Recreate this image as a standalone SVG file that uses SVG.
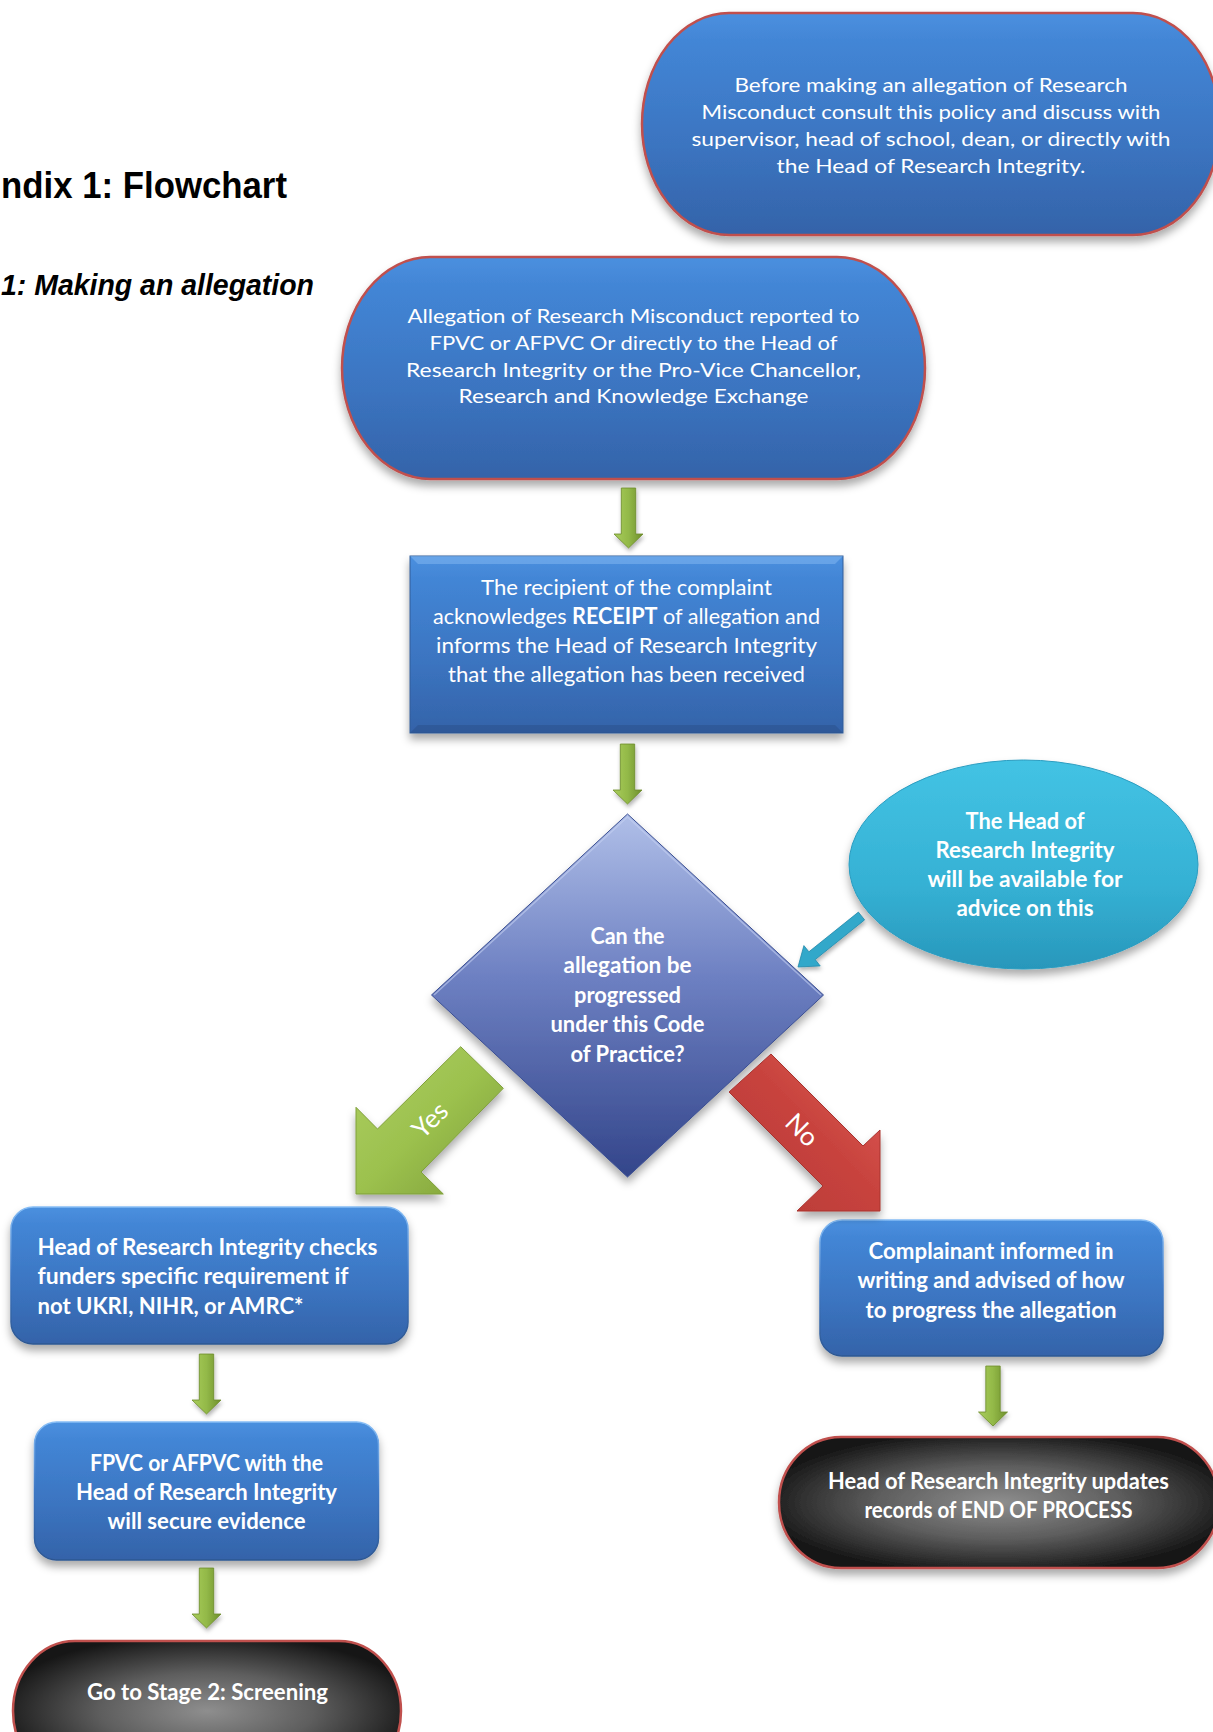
<svg xmlns="http://www.w3.org/2000/svg" width="1213" height="1732" viewBox="0 0 1213 1732">
<defs>
<style>
.t{font-family:Lato,'Liberation Sans',sans-serif;fill:#fff;text-anchor:middle}
.r20{font-size:20px}
.r22{font-size:22px}
.b22{font-size:22px;font-weight:700}
.lbl{font-family:Lato,'Liberation Sans',sans-serif;fill:#fff;font-size:26px;text-anchor:middle}
.hd{font-family:'Liberation Sans',Arial,sans-serif;font-weight:700;fill:#000}
.pillB{fill:url(#gBlue);stroke:#c0504d;stroke-width:2.5}
.pillD{fill:url(#gDark);stroke:#c0504d;stroke-width:2.5}
.box{fill:url(#gBlue);stroke:url(#gRim);stroke-width:1.5}
</style>
<linearGradient id="gBlue" x1="0" y1="0" x2="0" y2="1">
<stop offset="0" stop-color="#4b90df"/>
<stop offset="0.12" stop-color="#4386d6"/>
<stop offset="0.6" stop-color="#3b74c0"/>
<stop offset="1" stop-color="#3463a9"/>
</linearGradient>
<linearGradient id="gRim" x1="0" y1="0" x2="0" y2="1">
<stop offset="0" stop-color="#86bdf5"/>
<stop offset="0.5" stop-color="#3f78c4"/>
<stop offset="1" stop-color="#2d5791"/>
</linearGradient>
<radialGradient id="gDark" cx="0.5" cy="0.5" r="0.55">
<stop offset="0" stop-color="#8e8e8e"/>
<stop offset="0.5" stop-color="#5e5e5e"/>
<stop offset="1" stop-color="#161616"/>
</radialGradient>
<linearGradient id="gDia" x1="0" y1="0" x2="0" y2="1">
<stop offset="0" stop-color="#b0bfe8"/>
<stop offset="0.45" stop-color="#6d80c2"/>
<stop offset="1" stop-color="#33458a"/>
</linearGradient>
<linearGradient id="gCyan" x1="0" y1="0" x2="0" y2="1">
<stop offset="0" stop-color="#43c3e4"/>
<stop offset="0.6" stop-color="#35b1d4"/>
<stop offset="1" stop-color="#2897bb"/>
</linearGradient>
<linearGradient id="gGreen" x1="0" y1="0" x2="1" y2="0">
<stop offset="0" stop-color="#a9cd5c"/>
<stop offset="0.5" stop-color="#93b948"/>
<stop offset="1" stop-color="#6e8f2c"/>
</linearGradient>
<linearGradient id="gYes" x1="0" y1="0" x2="1" y2="1">
<stop offset="0" stop-color="#aecf62"/>
<stop offset="0.5" stop-color="#9cc14e"/>
<stop offset="1" stop-color="#7c9c36"/>
</linearGradient>
<linearGradient id="gNo" x1="0" y1="1" x2="1" y2="0">
<stop offset="0" stop-color="#b53a35"/>
<stop offset="0.55" stop-color="#c8433e"/>
<stop offset="1" stop-color="#e15e58"/>
</linearGradient>
<filter id="sh" x="-10%" y="-10%" width="120%" height="130%">
<feDropShadow dx="0" dy="6" stdDeviation="4" flood-color="#000" flood-opacity="0.33"/>
</filter>
<filter id="sh2" x="-20%" y="-20%" width="140%" height="140%">
<feDropShadow dx="1" dy="3" stdDeviation="2" flood-color="#000" flood-opacity="0.3"/>
</filter>
<path id="dn" d="M-7.2,0 H7.2 V46 H14.5 L0,60 L-14.5,46 H-7.2 Z"/>
</defs>

<g id="titles">
<text class="hd" x="1" y="198" font-size="36" textLength="286" lengthAdjust="spacingAndGlyphs">ndix 1: Flowchart</text>
<text class="hd" x="1" y="295" font-size="29" font-style="italic" textLength="313" lengthAdjust="spacingAndGlyphs">1: Making an allegation</text>
</g>

<g id="node-before">
<rect class="pillB" x="642" y="13" width="578" height="222" rx="87" ry="111" filter="url(#sh)"/>
<text class="t r20" x="931" y="92" textLength="393" lengthAdjust="spacingAndGlyphs">Before making an allegation of Research</text>
<text class="t r20" x="931" y="119" textLength="459" lengthAdjust="spacingAndGlyphs">Misconduct consult this policy and discuss with</text>
<text class="t r20" x="931" y="146" textLength="479" lengthAdjust="spacingAndGlyphs">supervisor, head of school, dean, or directly with</text>
<text class="t r20" x="931" y="173" textLength="309" lengthAdjust="spacingAndGlyphs">the Head of Research Integrity.</text>
</g>

<g id="node-allegation">
<rect class="pillB" x="342" y="257" width="583" height="222" rx="88" ry="111" filter="url(#sh)"/>
<text class="t r20" x="633.5" y="323" textLength="452" lengthAdjust="spacingAndGlyphs">Allegation of Research Misconduct reported to</text>
<text class="t r20" x="633.5" y="350" textLength="408" lengthAdjust="spacingAndGlyphs">FPVC or AFPVC Or directly to the Head of</text>
<text class="t r20" x="633.5" y="377" textLength="455" lengthAdjust="spacingAndGlyphs">Research Integrity or the Pro-Vice Chancellor,</text>
<text class="t r20" x="633.5" y="403" textLength="350" lengthAdjust="spacingAndGlyphs">Research and Knowledge Exchange</text>
</g>

<g id="node-receipt">
<rect x="410" y="556" width="433" height="177" fill="url(#gBlue)" stroke="#335d98" stroke-width="1" filter="url(#sh)"/>
<path d="M410,556 H843 L835,564 H418 Z" fill="#7fb6f0" opacity="0.55"/>
<path d="M410,733 H843 L835,725 H418 Z" fill="#25487c" opacity="0.35"/>
<text class="t r22" x="626.5" y="595" textLength="291" lengthAdjust="spacingAndGlyphs">The recipient of the complaint</text>
<text class="t r22" x="626.5" y="624" textLength="387" lengthAdjust="spacingAndGlyphs">acknowledges <tspan font-weight="700">RECEIPT</tspan> of allegation and</text>
<text class="t r22" x="626.5" y="653" textLength="381" lengthAdjust="spacingAndGlyphs">informs the Head of Research Integrity</text>
<text class="t r22" x="626.5" y="682" textLength="357" lengthAdjust="spacingAndGlyphs">that the allegation has been received</text>
</g>

<g id="node-decision">
<polygon points="627.5,814 823.5,995 627.5,1177 431.5,995" fill="url(#gDia)" stroke="#3b4f92" stroke-width="1" filter="url(#sh)"/>
<polyline points="434,995 627.5,817 821,995" fill="none" stroke="#c5d1f2" stroke-width="1.5" opacity="0.6"/>
<text class="t b22" x="627.5" y="944" textLength="74" lengthAdjust="spacingAndGlyphs">Can the</text>
<text class="t b22" x="627.5" y="973" textLength="128" lengthAdjust="spacingAndGlyphs">allegation be</text>
<text class="t b22" x="627.5" y="1003" textLength="107" lengthAdjust="spacingAndGlyphs">progressed</text>
<text class="t b22" x="627.5" y="1032" textLength="154" lengthAdjust="spacingAndGlyphs">under this Code</text>
<text class="t b22" x="627.5" y="1062" textLength="114" lengthAdjust="spacingAndGlyphs">of Practice?</text>
</g>

<g id="node-advice">
<ellipse cx="1023.5" cy="864.5" rx="174.5" ry="104.5" fill="url(#gCyan)" stroke="#2a9cc0" stroke-width="1" filter="url(#sh)"/>
<text class="t b22" x="1025" y="829" textLength="119" lengthAdjust="spacingAndGlyphs">The Head of</text>
<text class="t b22" x="1025" y="858" textLength="179" lengthAdjust="spacingAndGlyphs">Research Integrity</text>
<text class="t b22" x="1025" y="887" textLength="195" lengthAdjust="spacingAndGlyphs">will be available for</text>
<text class="t b22" x="1025" y="916" textLength="137" lengthAdjust="spacingAndGlyphs">advice on this</text>
</g>

<g id="node-funders">
<rect class="box" x="11" y="1207" width="397" height="137" rx="22" filter="url(#sh)"/>
<text class="t b22" style="text-anchor:start" x="37.5" y="1255" textLength="340" lengthAdjust="spacingAndGlyphs">Head of Research Integrity checks</text>
<text class="t b22" style="text-anchor:start" x="37.5" y="1284" textLength="311" lengthAdjust="spacingAndGlyphs">funders specific requirement if</text>
<text class="t b22" style="text-anchor:start" x="37.5" y="1314" textLength="266" lengthAdjust="spacingAndGlyphs">not UKRI, NIHR, or AMRC*</text>
</g>

<g id="node-evidence">
<rect class="box" x="34.5" y="1422" width="344" height="138" rx="22" filter="url(#sh)"/>
<text class="t b22" x="206.5" y="1471" textLength="233" lengthAdjust="spacingAndGlyphs">FPVC or AFPVC with the</text>
<text class="t b22" x="206.5" y="1500" textLength="261" lengthAdjust="spacingAndGlyphs">Head of Research Integrity</text>
<text class="t b22" x="206.5" y="1529" textLength="198" lengthAdjust="spacingAndGlyphs">will secure evidence</text>
</g>

<g id="node-stage2">
<rect class="pillD" x="13" y="1641" width="388" height="140" rx="62" ry="70"/>
<text class="t b22" x="207.5" y="1700" textLength="241" lengthAdjust="spacingAndGlyphs">Go to Stage 2: Screening</text>
</g>

<g id="node-complainant">
<rect class="box" x="820" y="1220" width="343" height="136" rx="22" filter="url(#sh)"/>
<text class="t b22" x="991" y="1259" textLength="245" lengthAdjust="spacingAndGlyphs">Complainant informed in</text>
<text class="t b22" x="991" y="1288" textLength="267" lengthAdjust="spacingAndGlyphs">writing and advised of how</text>
<text class="t b22" x="991" y="1318" textLength="251" lengthAdjust="spacingAndGlyphs">to progress the allegation</text>
</g>

<g id="node-end">
<rect class="pillD" x="779" y="1437" width="440" height="131" rx="62" ry="65.5" filter="url(#sh)"/>
<text class="t b22" x="998.5" y="1489" textLength="341" lengthAdjust="spacingAndGlyphs">Head of Research Integrity updates</text>
<text class="t b22" x="998.5" y="1518" textLength="268" lengthAdjust="spacingAndGlyphs">records of END OF PROCESS</text>
</g>

<g id="connectors">
<use href="#dn" x="628.5" y="488" fill="url(#gGreen)" stroke="#6c8c2b" stroke-width="0.8" filter="url(#sh2)"/>
<use href="#dn" x="627.5" y="744" fill="url(#gGreen)" stroke="#6c8c2b" stroke-width="0.8" filter="url(#sh2)"/>
<use href="#dn" x="206.5" y="1354" fill="url(#gGreen)" stroke="#6c8c2b" stroke-width="0.8" filter="url(#sh2)"/>
<use href="#dn" x="206.5" y="1568" fill="url(#gGreen)" stroke="#6c8c2b" stroke-width="0.8" filter="url(#sh2)"/>
<use href="#dn" x="993" y="1366" fill="url(#gGreen)" stroke="#6c8c2b" stroke-width="0.8" filter="url(#sh2)"/>
<polygon points="858.4,912.1 808.9,951.8 803.9,945.6 798,967 820.2,965.9 815.2,959.6 864.6,919.9" fill="#33a8ca" stroke="#2389ab" stroke-width="0.8" filter="url(#sh2)"/>
<polygon points="460.7,1046.7 377.5,1129 356,1107.3 356,1194 443.3,1194 421,1172 503.3,1088.3" fill="url(#gYes)" stroke="#7f9f3a" stroke-width="1" filter="url(#sh)"/>
<text class="lbl" x="430" y="1129" transform="rotate(-45 430 1120)">Yes</text>
<polygon points="771,1054 863,1146 880,1130 880,1211 797,1211 823,1186 729,1092" fill="url(#gNo)" stroke="#a8332f" stroke-width="1" filter="url(#sh)"/>
<text class="lbl" x="802" y="1139" transform="rotate(45 802 1130)">No</text>
</g>
</svg>
